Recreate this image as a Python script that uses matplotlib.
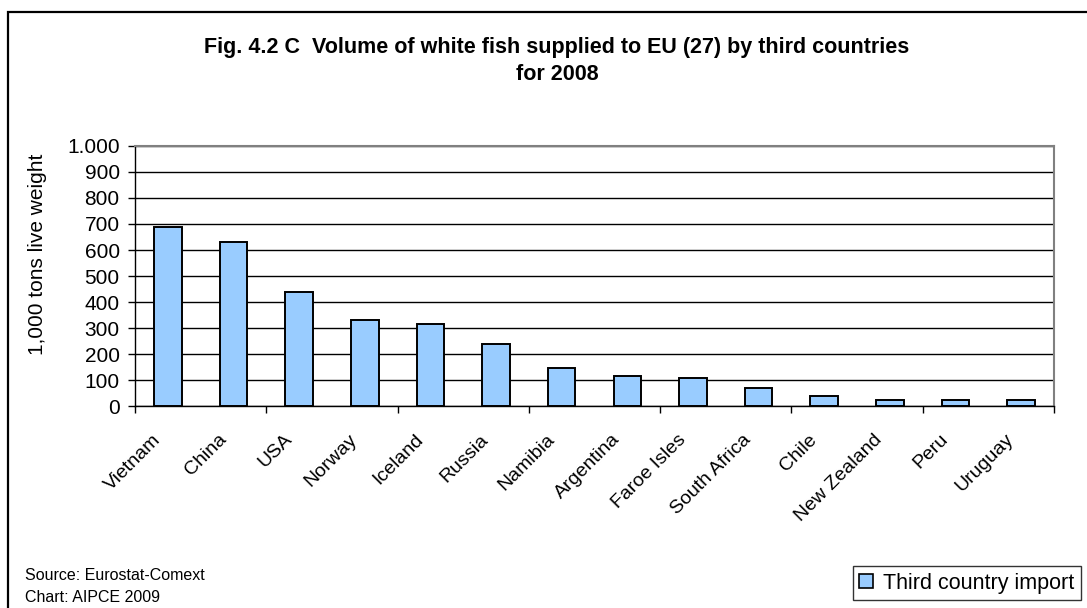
import numpy as np
import matplotlib
matplotlib.use("Agg")
import matplotlib.pyplot as plt
from matplotlib.patches import Rectangle, Patch
from matplotlib.transforms import ScaledTranslation

plt.rcParams['font.family'] = ['Liberation Sans', 'DejaVu Sans']

# white fish supplied to EU(27), 1,000 t live weight
countries = ["Vietnam", "China", "USA", "Norway", "Iceland", "Russia", "Namibia",
             "Argentina", "Faroe Isles", "South Africa", "Chile", "New Zealand",
             "Peru", "Uruguay"]
volumes = [690, 630, 437, 329, 314, 237, 145, 115, 107, 69, 38, 23, 23, 23]
yticks = [0, 100, 200, 300, 400, 500, 600, 700, 800, 900, 1000]
ytick_labels = ["0", "100", "200", "300", "400", "500", "600", "700", "800", "900", "1.000"]

W, H = 1087, 608
fig = plt.figure(figsize=(W / 100, H / 100), dpi=100)

# outer chart frame (runs off the right and bottom edge)
fig.patches.append(Rectangle((8 / W, -0.1), 1.2, 1 - 12 / H + 0.1, transform=fig.transFigure,
                             fill=False, edgecolor="black", linewidth=1.6))

ax = fig.add_axes([135 / W, 1 - 406 / H, (1054 - 135) / W, (406 - 146) / H])

x = np.arange(len(countries))
ax.bar(x, volumes, width=0.42, color="#99CCFF", edgecolor="black", linewidth=1.4, zorder=3)

ax.set_xlim(-0.5, len(countries) - 0.5)
ax.set_ylim(0, 1000)
ax.set_yticks(yticks)
ax.set_yticklabels(ytick_labels, fontsize=15)
ax.yaxis.grid(True, color="black", linewidth=1.0, zorder=0)
ax.tick_params(axis="y", direction="out", length=5, width=1, pad=6)

# labels at category centres, tick marks between every second category
ax.set_xticks(x)
ax.set_xticklabels(countries, fontsize=14, rotation=45, ha="right", rotation_mode="anchor")
ax.set_xticks(np.arange(-0.5, len(countries), 2), minor=True)
ax.tick_params(axis="x", which="major", length=0, pad=18)
ax.tick_params(axis="x", which="minor", direction="out", length=5, width=1)
for lbl in ax.get_xticklabels():
    lbl.set_transform(lbl.get_transform() + ScaledTranslation(-0.16, 0, fig.dpi_scale_trans))

for side in ["top", "right"]:
    ax.spines[side].set_color("#808080")
    ax.spines[side].set_linewidth(1.5)
for side in ["left", "bottom"]:
    ax.spines[side].set_color("black")
    ax.spines[side].set_linewidth(1.0)

fig.text(38 / W, 1 - 254 / H, "1,000 tons live weight", rotation=90,
         ha="center", va="center", fontsize=15)

fig.text(557 / W, 1 - 47 / H, "Fig. 4.2 C  Volume of white fish supplied to EU (27) by third countries",
         ha="center", va="center", fontsize=15.5, fontweight="bold")
fig.text(557 / W, 1 - 75 / H, "for 2008", ha="center", va="center", fontsize=15.5, fontweight="bold")

fig.text(25 / W, 1 - 576 / H, "Source: Eurostat-Comext", ha="left", va="center", fontsize=11.5)
fig.text(25 / W, 1 - 597 / H, "Chart: AIPCE 2009", ha="left", va="center", fontsize=11.5)

handle = Patch(facecolor="#99CCFF", edgecolor="black", linewidth=1.2)
leg = fig.legend([handle], ["Third country import"], loc="lower left",
                 bbox_to_anchor=(853 / W, 1 - 600 / H), fontsize=15.5,
                 frameon=True, fancybox=False, edgecolor="black",
                 handlelength=0.65, handleheight=0.65, handletextpad=0.45,
                 borderpad=0.3, borderaxespad=0)
leg.get_frame().set_linewidth(1.0)

fig.savefig("out.png", dpi=100)
